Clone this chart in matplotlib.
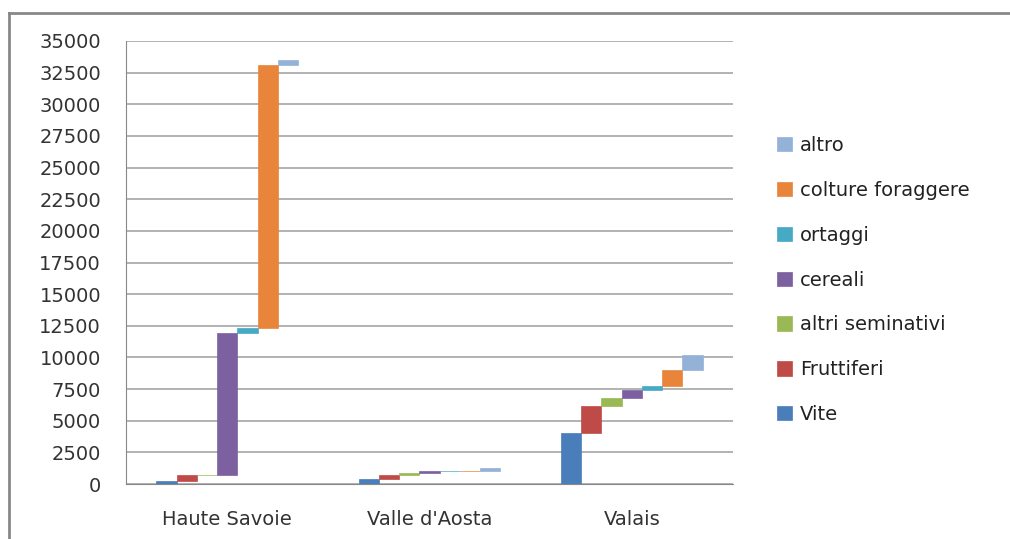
import matplotlib
matplotlib.use("Agg")
import matplotlib.pyplot as plt
from matplotlib.lines import Line2D
import numpy as np

categories = ["Haute Savoie", "Valle d'Aosta", "Valais"]
series = ["Vite", "Fruttiferi", "altri seminativi", "cereali", "ortaggi",
          "colture foraggere", "altro"]
vite = [200, 420, 4000]
fruttiferi = [500, 280, 2200]
altri_seminativi = [0, 200, 600]
cereali = [11200, 120, 650]
ortaggi = [400, 30, 320]
colture_foraggere = [20800, 10, 1250]
altro = [370, 220, 1200]
colors = ["#4A7EBB", "#BE4B48", "#98B954", "#7D60A0", "#46AAC5", "#E8853A", "#94B2D8"]
yticks = list(range(0, 35001, 2500))

values = [vite, fruttiferi, altri_seminativi, cereali, ortaggi, colture_foraggere, altro]

plt.rcParams['font.family'] = ['DejaVu Sans']
fig = plt.figure(figsize=(10.10, 5.39), dpi=100)
ax = fig.add_axes([126/1010, 1-484/539, (733-126)/1010, (484-41)/539])

n = len(series)
width = 0.1
x = np.arange(len(categories))
bottoms = np.zeros(len(categories))
for i, (name, vals, col) in enumerate(zip(series, values, colors)):
    pos = x + (i - (n - 1) / 2) * width
    ax.bar(pos, vals, width=width, bottom=bottoms, color=col,
           edgecolor=col, linewidth=0.5 if max(vals) > 0 else 0, label=name, zorder=3)
    bottoms = bottoms + np.array(vals)

ax.set_xlim(-0.5, len(categories) - 0.5)
ax.set_ylim(0, 35000)
ax.set_yticks(yticks)
ax.set_yticklabels([str(t) for t in yticks], fontsize=14, color="#333333")
ax.set_xticks(x)
ax.set_xticklabels(categories, fontsize=14, color="#333333")
ax.tick_params(axis='y', length=0, pad=18)
ax.tick_params(axis='x', length=0, pad=19)
ax.yaxis.grid(True, color="#A6A6A6", linewidth=1.2, zorder=0)
for s in ["top", "right"]:
    ax.spines[s].set_visible(False)
ax.spines["left"].set_color("#888888")
ax.spines["bottom"].set_color("#888888")

h, l = ax.get_legend_handles_labels()
leg = fig.legend(h[::-1], l[::-1], loc="center left",
                 bbox_to_anchor=(777/1010, 1 - 280/539), frameon=False,
                 fontsize=14, labelspacing=1.33, handlelength=0.75,
                 handleheight=0.75, handletextpad=0.45, labelcolor="#222222",
                 borderaxespad=0, borderpad=0)

# outer border lines
fig.add_artist(Line2D([9/1010, 9/1010], [0, 1 - 13/539], color="#888888", linewidth=2, transform=fig.transFigure))
fig.add_artist(Line2D([9/1010, 1], [1 - 13/539, 1 - 13/539], color="#888888", linewidth=2, transform=fig.transFigure))

fig.savefig("out.png", dpi=100)
